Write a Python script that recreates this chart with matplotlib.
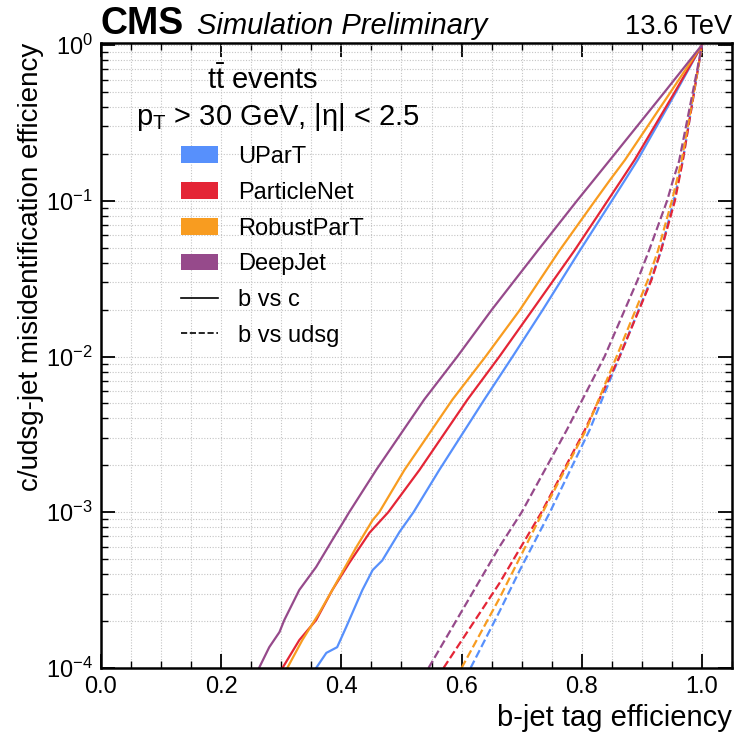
import matplotlib
matplotlib.use("Agg")
import matplotlib.pyplot as plt
from matplotlib.patches import Patch
from matplotlib.lines import Line2D
from matplotlib.ticker import MultipleLocator, LogLocator, NullFormatter

plt.rcParams['font.family'] = ['Liberation Sans', 'DejaVu Sans']
plt.rcParams['mathtext.fontset'] = 'custom'
plt.rcParams['mathtext.rm'] = 'Liberation Sans'
plt.rcParams['mathtext.it'] = 'Liberation Sans:italic'
plt.rcParams['mathtext.bf'] = 'Liberation Sans:bold'

# ---------------- data ----------------
taggers = ["UParT", "ParticleNet", "RobustParT", "DeepJet"]
colors = ["#5790fc", "#e42536", "#f89c20", "#964a8b"]

# b vs c (solid)
upart_bc_x = [0.358, 0.375, 0.393, 0.408, 0.435, 0.452, 0.468, 0.497, 0.520, 0.563, 0.638, 0.685, 0.735, 0.797, 0.850, 0.872, 0.893, 0.957, 1.0]
upart_bc_y = [1e-4, 1.25e-4, 1.36e-4, 1.83e-4, 3.17e-4, 4.25e-4, 4.9e-4, 7.5e-4, 1e-3, 1.87e-3, 5.3e-3, 1e-2, 1.99e-2, 4.8e-2, 0.1, 0.136, 0.183, 0.5, 1.0]

pnet_bc_x = [0.302, 0.330, 0.358, 0.385, 0.413, 0.447, 0.478, 0.530, 0.610, 0.663, 0.718, 0.788, 0.843, 0.866, 0.888, 0.955, 1.0]
pnet_bc_y = [1e-4, 1.51e-4, 2.03e-4, 3.17e-4, 4.72e-4, 7.4e-4, 1e-3, 1.87e-3, 5.3e-3, 1e-2, 1.99e-2, 4.8e-2, 0.1, 0.136, 0.183, 0.5, 1.0]

rpart_bc_x = [0.310, 0.335, 0.363, 0.385, 0.397, 0.425, 0.452, 0.463, 0.505, 0.585, 0.640, 0.697, 0.763, 0.822, 0.847, 0.872, 0.948, 1.0]
rpart_bc_y = [1e-4, 1.51e-4, 2.25e-4, 3.17e-4, 3.84e-4, 5.98e-4, 8.9e-4, 1e-3, 1.87e-3, 5.3e-3, 1e-2, 1.99e-2, 4.8e-2, 0.1, 0.136, 0.183, 0.5, 1.0]

djet_bc_x = [0.263, 0.280, 0.297, 0.305, 0.330, 0.358, 0.385, 0.402, 0.413, 0.458, 0.538, 0.593, 0.650, 0.727, 0.792, 0.820, 0.847, 0.938, 1.0]
djet_bc_y = [1e-4, 1.36e-4, 1.70e-4, 2.03e-4, 3.17e-4, 4.45e-4, 6.64e-4, 8.5e-4, 1e-3, 1.87e-3, 5.3e-3, 1e-2, 1.99e-2, 4.8e-2, 0.1, 0.136, 0.183, 0.5, 1.0]

# b vs udsg (dashed)
upart_bl_x = [0.615, 0.663, 0.697, 0.747, 0.813, 0.863, 0.915, 0.932, 0.953, 0.968, 0.993, 1.0]
upart_bl_y = [1e-4, 2.3e-4, 4.25e-4, 1e-3, 3.37e-3, 1e-2, 3.1e-2, 4.8e-2, 0.1, 0.18, 0.69, 1.0]

pnet_bl_x = [0.570, 0.663, 0.733, 0.805, 0.863, 0.916, 0.932, 0.955, 0.968, 0.993, 1.0]
pnet_bl_y = [1e-4, 3.5e-4, 1e-3, 3.37e-3, 1e-2, 3.1e-2, 4.8e-2, 0.1, 0.18, 0.69, 1.0]

rpart_bl_x = [0.600, 0.663, 0.735, 0.807, 0.858, 0.910, 0.927, 0.950, 0.966, 0.993, 1.0]
rpart_bl_y = [1e-4, 2.8e-4, 1e-3, 3.37e-3, 1e-2, 3.1e-2, 4.8e-2, 0.1, 0.18, 0.69, 1.0]

djet_bl_x = [0.545, 0.663, 0.700, 0.775, 0.838, 0.893, 0.912, 0.942, 0.952, 0.962, 0.992, 1.0]
djet_bl_y = [1e-4, 6e-4, 1e-3, 3.37e-3, 1e-2, 3.1e-2, 4.8e-2, 0.1, 0.136, 0.18, 0.69, 1.0]

bc_curves = [(upart_bc_x, upart_bc_y), (pnet_bc_x, pnet_bc_y), (rpart_bc_x, rpart_bc_y), (djet_bc_x, djet_bc_y)]
bl_curves = [(upart_bl_x, upart_bl_y), (pnet_bl_x, pnet_bl_y), (rpart_bl_x, rpart_bl_y), (djet_bl_x, djet_bl_y)]

# ---------------- figure ----------------
fig = plt.figure(figsize=(7.48, 7.33), dpi=100)
ax = fig.add_axes([0.135, 0.0887, 0.8436, 0.8526])

for (x, y), c in zip(bc_curves, colors):
    ax.plot(x, y, color=c, lw=1.6, ls='-')
for (x, y), c in zip(bl_curves, colors):
    ax.plot(x, y, color=c, lw=1.6, ls='--')

ax.set_yscale('log')
ax.set_xlim(0, 1.05)
ax.set_ylim(1e-4, 1.03)

ax.xaxis.set_major_locator(MultipleLocator(0.2))
ax.xaxis.set_minor_locator(MultipleLocator(0.05))
ax.yaxis.set_major_locator(LogLocator(base=10, numticks=10))
ax.yaxis.set_minor_locator(LogLocator(base=10, subs=range(2, 10), numticks=50))
ax.yaxis.set_minor_formatter(NullFormatter())

ax.tick_params(which='both', direction='in', top=True, right=True, labelsize=17)
ax.tick_params(which='major', length=10, width=1.3, pad=6)
ax.tick_params(which='minor', length=5, width=1.0)
for s in ax.spines.values():
    s.set_linewidth(1.8)

ax.grid(True, which='both', color='#c4c4c4', ls=(0, (1, 1.5)), lw=0.8)
ax.set_axisbelow(True)

ax.set_xlabel("b-jet tag efficiency", fontsize=21, loc='right')
ax.set_ylabel("c/udsg-jet misidentification efficiency", fontsize=20, loc='top', labelpad=1)

# CMS label
ax.text(0.0, 1.0145, "CMS", transform=ax.transAxes, fontsize=27, fontweight='bold', ha='left', va='baseline')
ax.text(0.152, 1.0145, "Simulation Preliminary", transform=ax.transAxes, fontsize=21, style='italic', ha='left', va='baseline')
ax.text(1.0, 1.0145, "13.6 TeV", transform=ax.transAxes, fontsize=19.5, ha='right', va='baseline')

# annotations
ax.text(0.256, 0.94, r"$\mathrm{t\bar{t}}$ events", transform=ax.transAxes, fontsize=21, ha='center', va='center')
ax.text(0.055, 0.882, r"p$_\mathrm{T}$ > 30 GeV, |η| < 2.5", transform=ax.transAxes, fontsize=21, ha='left', va='center')

handles = [Patch(facecolor=c, edgecolor='none', label=t) for t, c in zip(taggers, colors)]
handles += [Line2D([], [], color='black', lw=1.2, ls='-', label='b vs c'),
            Line2D([], [], color='black', lw=1.2, ls='--', label='b vs udsg')]
ax.legend(handles=handles, loc='upper left', bbox_to_anchor=(0.127, 0.835), frameon=False,
          fontsize=17, borderpad=0, borderaxespad=0, handlelength=1.57, handleheight=0.72,
          handletextpad=0.85, labelspacing=0.58)

fig.savefig("out.png", dpi=100)
